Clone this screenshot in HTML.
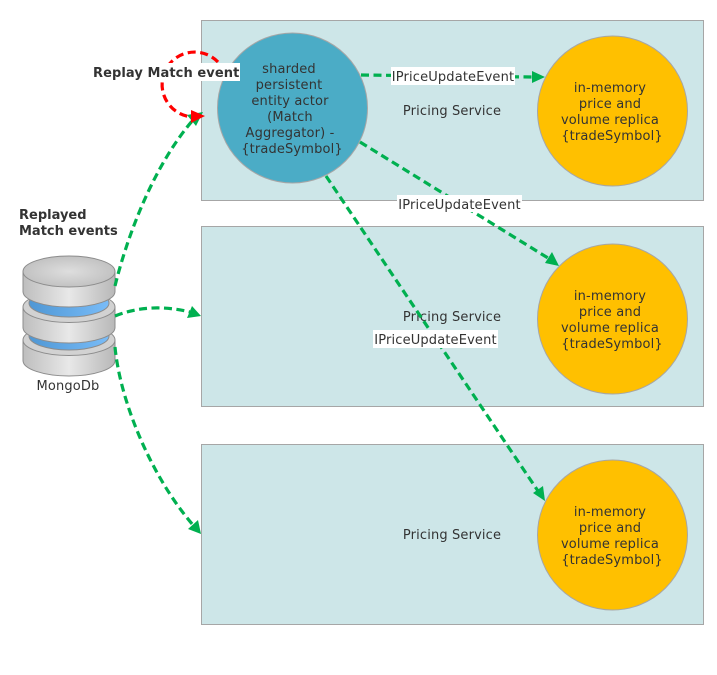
<!DOCTYPE html>
<html><head><meta charset="utf-8"><style>
html,body{margin:0;padding:0;background:#fff;width:717px;height:675px;overflow:hidden}
svg{display:block}
text{font-family:"DejaVu Sans",sans-serif;font-size:13px;fill:#333;text-anchor:middle;letter-spacing:.15px}
.b{font-weight:bold;text-anchor:start;letter-spacing:0}
.d{fill:none;stroke:#00b050;stroke-width:3.2;stroke-dasharray:8 4.5}
.r{fill:none;stroke:#f00;stroke-width:3.2;stroke-dasharray:8 4.5}
.box{fill:#cde6e8;stroke:#a6a6a6;stroke-width:1}
.gold{fill:#ffc000;stroke:#a6a6a6;stroke-width:1}
.disk{stroke:#8c8c8c;stroke-width:1}
</style></head><body>
<svg width="717" height="675" viewBox="0 0 717 675" xmlns="http://www.w3.org/2000/svg">
<defs>
<linearGradient id="g" x1="0" x2="1" y1="0" y2="0"><stop offset="0" stop-color="#bebebe"/><stop offset=".5" stop-color="#e8e8e8"/><stop offset="1" stop-color="#b8b8b8"/></linearGradient>
<linearGradient id="bl" x1="0" x2="1" y1="0" y2="0"><stop offset="0" stop-color="#4f97d4"/><stop offset="1" stop-color="#79bcf8"/></linearGradient>
<radialGradient id="t"><stop offset="0" stop-color="#dedede"/><stop offset="1" stop-color="#c2c2c2"/></radialGradient>
</defs>
<rect class="box" x="201.500" y="20.500" width="502" height="180"/>
<rect class="box" x="201.500" y="226.500" width="502" height="180"/>
<rect class="box" x="201.500" y="444.500" width="502" height="180"/>
<text x="452" y="115">Pricing Service</text>
<text x="452" y="321">Pricing Service</text>
<text x="452" y="539">Pricing Service</text>

<!-- database -->
<path class="disk" fill="url(#g)" d="M23 340V360.500A46 15.500 0 0 0 115 360.500V340Z"/>
<ellipse class="disk" cx="69" cy="340" rx="46" ry="15.500" fill="#d2d2d2"/>
<ellipse class="disk" cx="69" cy="336" rx="40" ry="14" fill="url(#bl)"/>
<path class="disk" fill="url(#g)" d="M23 307V327.500A46 15.500 0 0 0 115 327.500V307Z"/>
<ellipse class="disk" cx="69" cy="307" rx="46" ry="15.500" fill="#d2d2d2"/>
<ellipse class="disk" cx="69" cy="303" rx="40" ry="14" fill="url(#bl)"/>
<path class="disk" fill="url(#g)" d="M23 271.500V291.500A46 15.500 0 0 0 115 291.500V271.500Z"/>
<ellipse class="disk" cx="69" cy="271.500" rx="46" ry="15.500" fill="url(#t)"/>
<text x="68" y="390">MongoDb</text>
<text class="b" x="19" y="219">Replayed</text>
<text class="b" x="19" y="235">Match events</text>

<!-- db connectors -->
<path class="d" d="M115 286C125 245 150 170 193 120"/>
<polygon fill="#00b050" points="203,112 196,126 187,115"/>
<path class="d" d="M115 316C140 306 165 306 190 312"/>
<polygon fill="#00b050" points="201,316 187,318 192,306"/>
<path class="d" d="M115 347C120 400 150 475 193 525"/>
<polygon fill="#00b050" points="201,534 188,529 198,520"/>

<!-- replay loop -->
<path class="r" d="M218 62A32.500 32.500 0 1 0 193 117"/>
<polygon fill="#f00" points="205,116 191,123 191,110"/>

<!-- actor -->
<circle cx="292.500" cy="108" r="75" fill="#4bacc6" stroke="#a6a6a6"/>

<!-- event connectors -->
<path class="d" d="M361 75L532 77"/>
<polygon fill="#00b050" points="545,77 532,83 532,71"/>
<path class="d" d="M360 142L548 258"/>
<polygon fill="#00b050" points="559,266 545,263 552,252"/>
<path class="d" d="M326 176L538 491"/>
<polygon fill="#00b050" points="545,501 533,493 543,486"/>

<circle class="gold" cx="612.500" cy="111" r="75"/>
<circle class="gold" cx="612.500" cy="319" r="75"/>
<circle class="gold" cx="612.500" cy="535" r="75"/>

<rect x="391" y="67" width="124" height="18" fill="#fff"/>
<text x="453" y="81">IPriceUpdateEvent</text>
<rect x="397" y="195" width="125" height="17" fill="#fff"/>
<text x="459.500" y="209">IPriceUpdateEvent</text>
<rect x="373" y="330" width="125" height="18" fill="#fff"/>
<text x="435.500" y="344">IPriceUpdateEvent</text>
<rect x="93" y="63" width="147" height="18" fill="#fff"/>
<text class="b" x="93" y="77" style="letter-spacing:.08px">Replay Match event</text>

<text x="289" y="73">sharded</text>
<text x="289" y="89">persistent</text>
<text x="290" y="105">entity actor</text>
<text x="290" y="121">(Match</text>
<text x="290" y="137">Aggregator) -</text>
<text x="292" y="153">{tradeSymbol}</text>

<text x="610" y="92">in-memory</text><text x="610" y="108">price and</text><text x="610" y="124">volume replica</text><text x="612" y="140">{tradeSymbol}</text>
<text x="610" y="300">in-memory</text><text x="610" y="316">price and</text><text x="610" y="332">volume replica</text><text x="612" y="348">{tradeSymbol}</text>
<text x="610" y="516">in-memory</text><text x="610" y="532">price and</text><text x="610" y="548">volume replica</text><text x="612" y="564">{tradeSymbol}</text>
</svg>
</body></html>
